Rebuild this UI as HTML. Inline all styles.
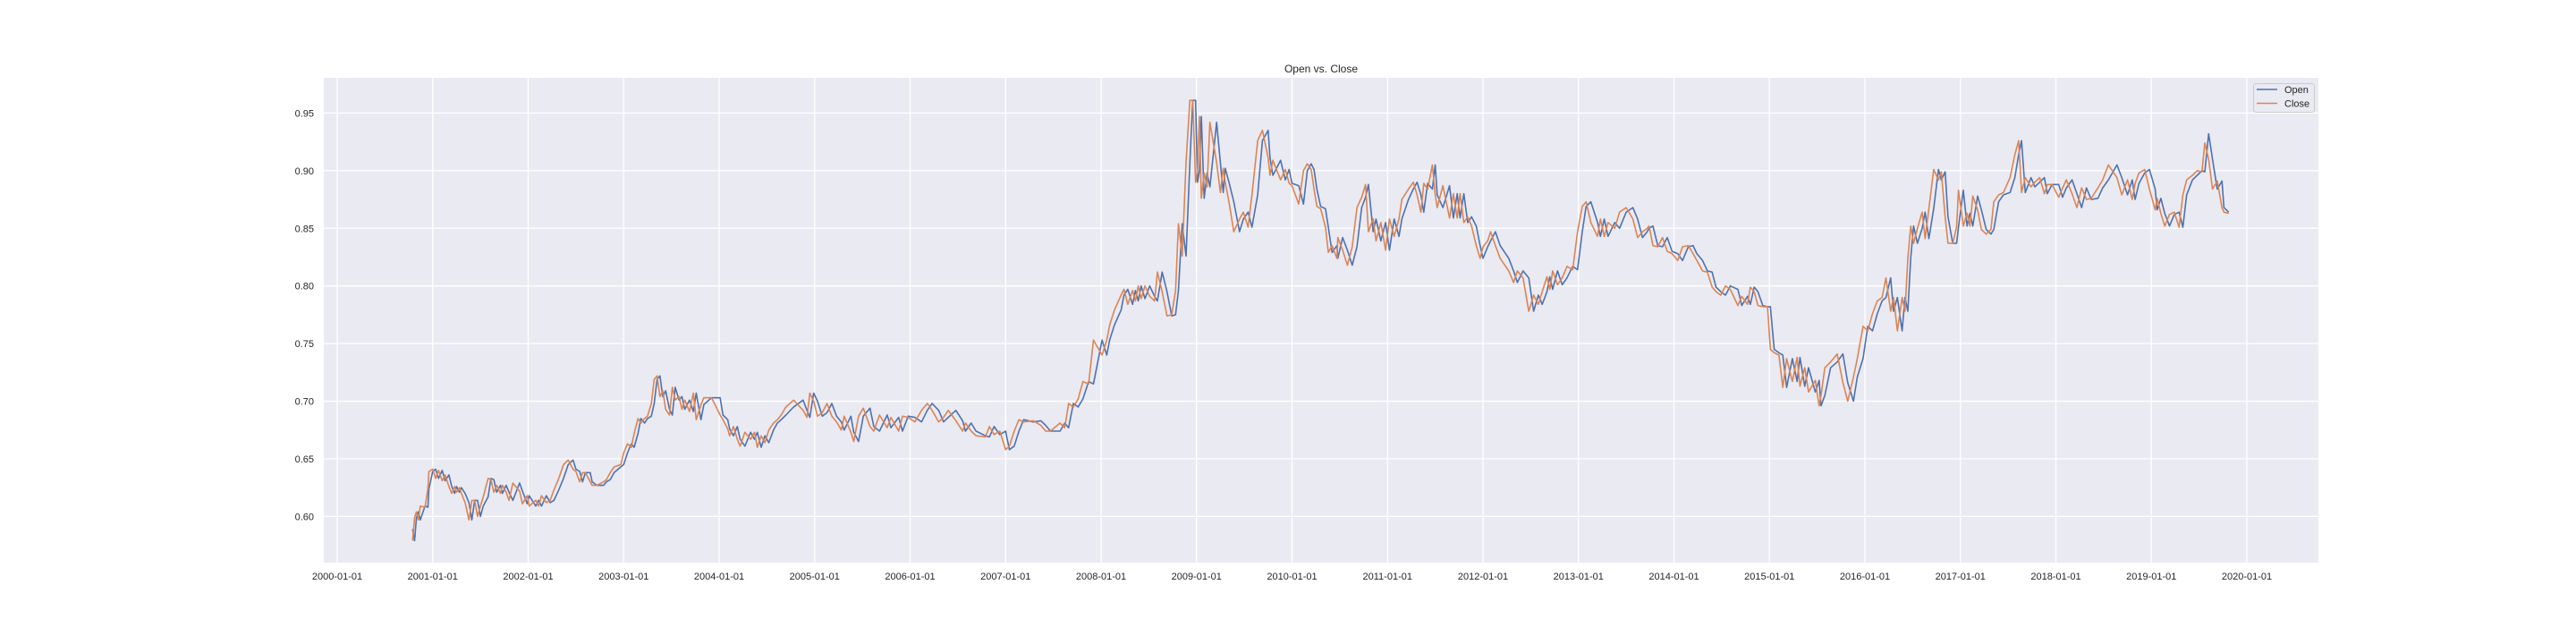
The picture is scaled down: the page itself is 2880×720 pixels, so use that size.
<!DOCTYPE html>
<html><head><meta charset="utf-8"><style>
html,body{margin:0;padding:0;background:#fff;}
svg{display:block;font-family:"Liberation Sans",sans-serif;}
</style></head><body>
<svg id="chart" width="2880" height="720" viewBox="0 0 2880 720">
<rect x="362" y="87" width="2230" height="542" fill="#EAEAF2"/>
<g id="grid"></g>
<g id="series"></g>
<g id="ticks"></g>
<text x="1477" y="81" font-size="12" fill="#262626" text-anchor="middle">Open vs. Close</text>
<g>
<rect x="2519.5" y="93.5" width="68" height="32" rx="3" fill="#EAEAF2" stroke="#cccccc" stroke-width="1"/>
<line x1="2523" y1="100" x2="2546" y2="100" stroke="#4C72B0" stroke-width="1.5"/>
<text x="2554" y="104" font-size="11" fill="#262626">Open</text>
<line x1="2523" y1="115.5" x2="2546" y2="115.5" stroke="#DD8452" stroke-width="1.5"/>
<text x="2554" y="119.5" font-size="11" fill="#262626">Close</text>
</g>
</svg>
<script>
const yTicks = [0.60,0.65,0.70,0.75,0.80,0.85,0.90,0.95];
const yTickLabels = ["0.60","0.65","0.70","0.75","0.80","0.85","0.90","0.95"];
const xTicks = [2000,2001,2002,2003,2004,2005,2006,2007,2008,2009,2010,2011,2012,2013,2014,2015,2016,2017,2018,2019,2020];
const xTickLabels = ["2000-01-01","2001-01-01","2002-01-01","2003-01-01","2004-01-01","2005-01-01","2006-01-01","2007-01-01","2008-01-01","2009-01-01","2010-01-01","2011-01-01","2012-01-01","2013-01-01","2014-01-01","2015-01-01","2016-01-01","2017-01-01","2018-01-01","2019-01-01","2020-01-01"];
const dates = [2000.79,2000.81,2000.83,2000.85,2000.87,2000.92,2000.95,2000.96,2001.00,2001.03,2001.06,2001.10,2001.13,2001.17,2001.20,2001.23,2001.25,2001.28,2001.30,2001.34,2001.38,2001.41,2001.44,2001.47,2001.50,2001.53,2001.58,2001.61,2001.64,2001.67,2001.71,2001.73,2001.77,2001.80,2001.84,2001.91,2001.94,2001.99,2002.01,2002.08,2002.11,2002.14,2002.19,2002.23,2002.27,2002.32,2002.37,2002.42,2002.47,2002.50,2002.54,2002.57,2002.60,2002.65,2002.67,2002.72,2002.79,2002.82,2002.86,2002.90,2002.97,2003.00,2003.04,2003.08,2003.11,2003.15,2003.18,2003.22,2003.25,2003.29,2003.32,2003.35,2003.38,2003.41,2003.44,2003.48,2003.51,2003.54,2003.58,2003.61,2003.64,2003.69,2003.73,2003.76,2003.81,2003.84,2003.92,2004.01,2004.04,2004.09,2004.11,2004.15,2004.19,2004.22,2004.27,2004.33,2004.37,2004.40,2004.44,2004.48,2004.52,2004.57,2004.61,2004.65,2004.70,
2004.78,2004.88,2004.92,2004.95,2004.99,2005.03,2005.08,2005.13,2005.18,2005.23,2005.28,2005.31,2005.38,2005.41,2005.46,2005.51,2005.58,2005.62,2005.68,2005.76,2005.80,2005.88,2005.92,2005.98,2006.05,2006.12,2006.18,2006.23,2006.30,2006.35,2006.40,2006.48,2006.55,2006.58,2006.64,2006.69,2006.79,2006.83,2006.88,2006.94,2007.00,2007.04,2007.09,2007.14,2007.19,2007.29,2007.37,2007.42,2007.47,2007.57,2007.62,2007.66,2007.71,2007.76,2007.81,2007.87,2007.92,2008.01,2008.06,2008.09,2008.14,2008.21,2008.24,2008.28,2008.33,2008.36,2008.39,2008.42,2008.46,2008.51,2008.56,2008.59,2008.64,2008.69,2008.74,2008.78,2008.81,2008.85,2008.89,2008.93,2008.96,2008.99,2009.01,2009.03,2009.05,2009.08,2009.11,2009.14,2009.21,2009.25,2009.28,2009.30,2009.34,2009.39,2009.45,2009.49,2009.54,2009.58,2009.64,2009.69,2009.75,2009.77,2009.80,2009.88,2009.93,
2009.97,2010.00,2010.07,2010.12,2010.16,2010.20,2010.23,2010.26,2010.30,2010.35,2010.38,2010.42,2010.47,2010.48,2010.53,2010.58,2010.63,2010.68,2010.73,2010.77,2010.80,2010.85,2010.88,2010.93,2010.98,2011.02,2011.07,2011.12,2011.15,2011.22,2011.27,2011.31,2011.35,2011.38,2011.42,2011.47,2011.50,2011.52,2011.58,2011.65,2011.69,2011.73,2011.76,2011.80,2011.84,2011.88,2011.93,2011.97,2012.00,2012.05,2012.08,2012.13,2012.18,2012.27,2012.32,2012.36,2012.42,2012.48,2012.53,2012.58,2012.62,2012.67,2012.70,2012.73,2012.78,2012.83,2012.88,2012.94,2012.99,2013.04,2013.08,2013.13,2013.20,2013.23,2013.27,2013.31,2013.38,2013.43,2013.50,2013.57,2013.62,2013.67,2013.72,2013.74,2013.78,2013.83,2013.88,2013.93,2013.98,2014.04,2014.09,2014.15,2014.20,2014.24,2014.30,2014.35,2014.40,2014.44,2014.49,2014.54,2014.59,2014.67,2014.71,2014.77,2014.80,2014.84,2014.88,2014.93,2014.98,
2015.01,2015.05,2015.10,2015.14,2015.18,2015.24,2015.29,2015.32,2015.37,2015.41,2015.48,2015.52,2015.54,2015.58,2015.64,2015.71,2015.77,2015.82,2015.88,2015.92,2015.98,2016.03,2016.08,2016.13,2016.18,2016.22,2016.27,2016.30,2016.34,2016.39,2016.42,2016.45,2016.48,2016.51,2016.55,2016.60,2016.63,2016.67,2016.72,2016.77,2016.80,2016.84,2016.87,2016.92,2016.96,2016.98,2017.03,2017.07,2017.10,2017.13,2017.18,2017.22,2017.27,2017.32,2017.35,2017.40,2017.45,2017.52,2017.57,2017.61,2017.64,2017.68,2017.74,2017.78,2017.83,2017.88,2017.91,2017.96,2018.03,2018.07,2018.11,2018.17,2018.22,2018.27,2018.32,2018.37,2018.44,2018.49,2018.55,2018.64,2018.69,2018.75,2018.80,2018.83,2018.87,2018.93,2018.98,2019.04,2019.06,2019.10,2019.14,2019.19,2019.24,2019.29,2019.33,2019.37,2019.43,2019.48,2019.53,2019.56,2019.60,2019.64,2019.69,2019.74,2019.76,2019.81];
const openVals = [.589,.579,.599,.604,.597,.609,.608,.624,.639,.641,.633,.640,.631,.636,.626,.620,.626,.621,.625,.620,.612,.597,.614,.614,.600,.609,.617,.633,.632,.621,.627,.620,.627,.621,.614,.629,.622,.611,.618,.609,.614,.609,.618,.612,.614,.623,.633,.645,.649,.641,.639,.630,.638,.638,.630,.627,.627,.630,.632,.638,.643,.645,.655,.663,.660,.672,.685,.681,.685,.687,.698,.719,.722,.704,.709,.693,.688,.712,.701,.704,.693,.701,.691,.707,.684,.697,.703,.703,.688,.684,.676,.670,.678,.667,.661,.673,.667,.673,.660,.670,.664,.675,.681,.684,.688,
.695,.701,.692,.686,.707,.700,.687,.690,.698,.687,.682,.675,.687,.673,.665,.687,.694,.678,.674,.688,.677,.686,.674,.687,.686,.682,.692,.698,.692,.682,.686,.692,.683,.674,.681,.674,.670,.669,.678,.671,.674,.658,.661,.674,.684,.682,.683,.679,.674,.674,.681,.677,.698,.695,.702,.717,.715,.753,.740,.753,.766,.779,.792,.797,.784,.796,.787,.800,.789,.800,.791,.787,.812,.795,.774,.775,.796,.854,.826,.907,.961,.961,.890,.900,.947,.876,.898,.886,.942,.907,.881,.902,.890,.873,.847,.858,.864,.851,.879,.926,.935,.911,.896,.909,.892,
.901,.889,.887,.871,.900,.906,.901,.884,.869,.867,.851,.829,.835,.824,.842,.831,.818,.834,.868,.877,.888,.847,.858,.839,.855,.831,.858,.843,.858,.875,.884,.890,.879,.864,.889,.884,.905,.879,.868,.887,.859,.880,.859,.880,.855,.860,.852,.835,.824,.834,.839,.847,.835,.824,.813,.803,.813,.807,.778,.792,.784,.795,.808,.797,.813,.801,.807,.817,.814,.847,.869,.873,.855,.843,.858,.843,.855,.850,.864,.868,.858,.842,.847,.850,.852,.835,.834,.842,.830,.828,.822,.834,.835,.828,.822,.813,.812,.799,.795,.792,.800,.797,.783,.791,.784,.799,.795,.783,.782,
.782,.745,.742,.740,.712,.737,.717,.738,.713,.729,.708,.718,.696,.705,.729,.734,.741,.716,.700,.721,.737,.765,.761,.776,.787,.790,.807,.778,.790,.761,.790,.778,.824,.852,.837,.850,.864,.841,.867,.901,.892,.899,.860,.837,.837,.851,.883,.852,.863,.852,.878,.866,.849,.845,.849,.873,.879,.881,.894,.914,.926,.881,.894,.886,.890,.894,.880,.888,.888,.877,.885,.892,.880,.868,.885,.875,.876,.885,.892,.905,.894,.879,.892,.875,.889,.898,.901,.884,.866,.876,.863,.852,.862,.864,.851,.879,.892,.896,.900,.899,.932,.910,.884,.891,.868,.864];
const closeVals = [.579,.599,.604,.597,.609,.608,.624,.639,.641,.633,.640,.631,.636,.626,.620,.626,.621,.625,.620,.612,.597,.614,.614,.600,.609,.617,.633,.632,.621,.627,.620,.627,.621,.614,.629,.622,.611,.618,.609,.614,.609,.618,.612,.614,.623,.633,.645,.649,.641,.639,.630,.638,.638,.630,.627,.627,.630,.632,.638,.643,.645,.655,.663,.660,.672,.685,.681,.685,.687,.698,.719,.722,.704,.709,.693,.688,.712,.701,.704,.693,.701,.691,.707,.684,.697,.703,.703,.688,.684,.676,.670,.678,.667,.661,.673,.667,.673,.660,.670,.664,.675,.681,.684,.688,.695,
.701,.692,.686,.707,.700,.687,.690,.698,.687,.682,.675,.687,.673,.665,.687,.694,.678,.674,.688,.677,.686,.674,.687,.686,.682,.692,.698,.692,.682,.686,.692,.683,.674,.681,.674,.670,.669,.678,.671,.674,.658,.661,.674,.684,.682,.683,.679,.674,.674,.681,.677,.698,.695,.702,.717,.715,.753,.740,.753,.766,.779,.792,.797,.784,.796,.787,.800,.789,.800,.791,.787,.812,.795,.774,.775,.796,.854,.826,.907,.961,.961,.890,.900,.947,.876,.898,.886,.942,.907,.881,.902,.890,.873,.847,.858,.864,.851,.879,.926,.935,.911,.896,.909,.892,.901,
.889,.887,.871,.900,.906,.901,.884,.869,.867,.851,.829,.835,.824,.842,.831,.818,.834,.868,.877,.888,.847,.858,.839,.855,.831,.858,.843,.858,.875,.884,.890,.879,.864,.889,.884,.905,.879,.868,.887,.859,.880,.859,.880,.855,.860,.852,.835,.824,.834,.839,.847,.835,.824,.813,.803,.813,.807,.778,.792,.784,.795,.808,.797,.813,.801,.807,.817,.814,.847,.869,.873,.855,.843,.858,.843,.855,.850,.864,.868,.858,.842,.847,.850,.852,.835,.834,.842,.830,.828,.822,.834,.835,.828,.822,.813,.812,.799,.795,.792,.800,.797,.783,.791,.784,.799,.795,.783,.782,.782,
.745,.742,.740,.712,.737,.717,.738,.713,.729,.708,.718,.696,.705,.729,.734,.741,.716,.700,.721,.737,.765,.761,.776,.787,.790,.807,.778,.790,.761,.790,.778,.824,.852,.837,.850,.864,.841,.867,.901,.892,.899,.860,.837,.837,.851,.883,.852,.863,.852,.878,.866,.849,.845,.849,.873,.879,.881,.894,.914,.926,.881,.894,.886,.890,.894,.880,.888,.888,.877,.885,.892,.880,.868,.885,.875,.876,.885,.892,.905,.894,.879,.892,.875,.889,.898,.901,.884,.866,.876,.863,.852,.862,.864,.851,.879,.892,.896,.900,.899,.924,.910,.884,.891,.868,.864,.863];

const NS = "http://www.w3.org/2000/svg";
function xScale(t){ return 377 + (t - 2000) * 106.75; }
function yScale(v){ return 577.4 - (v - 0.60) * 1288.6; }
const grid = document.getElementById('grid');
const ticks = document.getElementById('ticks');
yTicks.forEach((v,i)=>{
  const l = document.createElementNS(NS,'line');
  l.setAttribute('x1',362); l.setAttribute('x2',2592);
  l.setAttribute('y1',yScale(v)); l.setAttribute('y2',yScale(v));
  l.setAttribute('stroke','#fff'); l.setAttribute('stroke-width','1.3');
  
  
  grid.appendChild(l);
  const t = document.createElementNS(NS,'text');
  t.setAttribute('x',351); t.setAttribute('y',yScale(v)+4);
  t.setAttribute('text-anchor','end'); t.setAttribute('font-size','11'); t.setAttribute('fill','#262626');
  t.textContent = yTickLabels[i];
  
  
  ticks.appendChild(t);
});
xTicks.forEach((yr,i)=>{
  const l = document.createElementNS(NS,'line');
  l.setAttribute('x1',xScale(yr)); l.setAttribute('x2',xScale(yr));
  l.setAttribute('y1',87); l.setAttribute('y2',629);
  l.setAttribute('stroke','#fff'); l.setAttribute('stroke-width','1.3');
  
  
  grid.appendChild(l);
  const t = document.createElementNS(NS,'text');
  t.setAttribute('x',xScale(yr)); t.setAttribute('y',648);
  t.setAttribute('text-anchor','middle'); t.setAttribute('font-size','11'); t.setAttribute('fill','#262626');
  t.textContent = xTickLabels[i];
  
  
  ticks.appendChild(t);
});
const series = document.getElementById('series');
function drawLine(vals, color, name){
  let d = '';
  vals.forEach((v,i)=>{ d += (i?'L':'M') + xScale(dates[i]).toFixed(1) + ',' + yScale(v).toFixed(1); });
  const p = document.createElementNS(NS,'path');
  p.setAttribute('d',d); p.setAttribute('fill','none'); p.setAttribute('stroke',color);
  p.setAttribute('stroke-width','1.6'); p.setAttribute('stroke-linejoin','round');
  
  
  series.appendChild(p);
}
drawLine(openVals,'#4C72B0','open-line');
drawLine(closeVals,'#DD8452','close-line');
</script>
</body></html>
